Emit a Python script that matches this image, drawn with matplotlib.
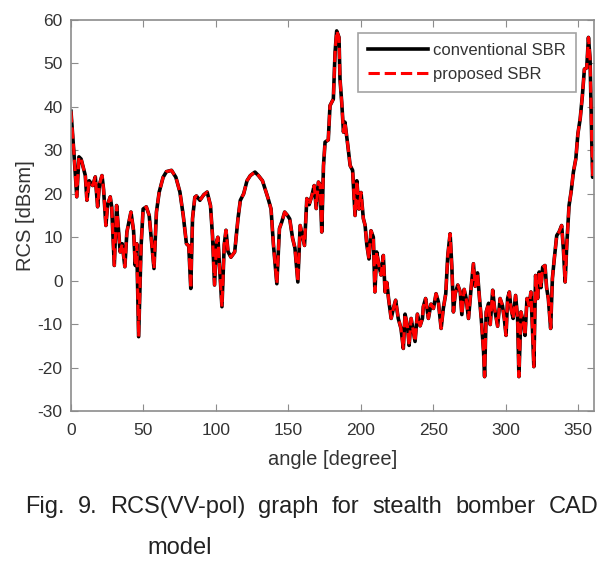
import matplotlib
matplotlib.use("Agg")
from matplotlib import pyplot as plt

# angle [degree] and RCS [dBsm]
angle = [0, 2, 4, 5.5, 7, 9.9, 11, 12.6, 15, 16.8, 18.4, 19.6, 21.4, 22.5, 24.1,
         25.3, 27.1, 28.1, 29.9, 31.5, 32.7, 34, 35.4, 37.2, 38.6, 41.4, 43.2,
         44.4, 45.4, 46.7, 48.4, 49.8, 52, 54, 55.6, 57.3, 59, 60.9, 63.6, 65.9,
         69.4, 72.4, 75.2, 77.5, 79.7, 81.3, 82.7, 83.9, 85.5, 86.6, 89, 91.7,
         94, 96.3, 97.7, 99.1, 100.5, 101.4, 102.5, 104.2, 105.8, 107, 108.4,
         110.4, 113, 115.3, 116.9, 119.2, 121.5, 123.8, 127, 129.4, 132.2, 134,
         136, 138.1, 139.7, 142.1, 143.9, 145.5, 147.5, 149.5, 151, 153, 154.6,
         156.6, 158.2, 159.6, 161.2, 162.8, 164.4, 166.3, 167.9, 169.3, 170.8,
         172, 173.1, 174.3, 175.4, 177.6, 178.8, 181.1, 182.3, 183.4, 185,
         185.7, 186.9, 188.1, 189.1, 191.1, 192.7, 194.4, 196.1, 197.3, 198.8,
         200.2, 201.8, 203, 204.2, 205.7, 207.1, 208.7, 209.8, 211, 212.6, 214,
         215.6, 216.8, 218, 219.2, 221, 222.6, 224.1, 225.9, 227.8, 229.4,
         230.6, 232.3, 233.4, 234.8, 236.4, 237.5, 239.1, 241, 242.6, 243.2,
         244.8, 246.7, 248.5, 250.2, 252, 253.6, 255.5, 257, 258.7, 260.1,
         261.7, 262.9, 264, 265.2, 267, 268.7, 269.8, 271.4, 272.8, 274.4,
         276.3, 277.8, 279, 280.6, 282, 283.2, 284.8, 285.5, 286.6, 288.3,
         289.4, 291.1, 292.4, 294.5, 296.2, 297.8, 299.1, 300.3, 301.4, 302.6,
         303.7, 305.2, 306.9, 308.3, 309.2, 310.6, 312.2, 313.4, 314.8, 316.2,
         317.5, 318.6, 319.5, 320.7, 322.1, 323.2, 324.4, 325.6, 327.2, 328.3,
         329.5, 331.1, 332.3, 333.6, 335.3, 336.9, 338.7, 339.9, 341.1, 342.2,
         343.8, 345.2, 346.8, 348.5, 349.9, 351.5, 353, 354.4, 356, 357.2,
         358.3, 359.5, 360.1, 361]

conventional_rcs = [39, 29.6, 19.3, 28.5, 28, 24.2, 18.5, 23, 21.9, 23.9, 17, 22,
                    24.2, 21, 12.7, 17.5, 19.3, 17, 3.5, 17.3, 12, 6.6, 8.5, 3.2,
                    11.2, 15.8, 11.5, 3.5, 8.5, -12.9, 8, 16.5, 17, 15, 9, 2.8,
                    15.8, 20.4, 23.8, 25.1, 25.4, 23.8, 20.4, 15, 8.5, 8, -1.8,
                    14.3, 19.2, 19.5, 18.5, 19.8, 20.4, 17.3, 10.3, -1, 9, 10,
                    3.5, -6, 8.3, 11.6, 6.7, 5.4, 6.6, 14.3, 18.5, 20, 23, 24.2,
                    25, 24.2, 23, 21.1, 19, 16.5, 8.5, -0.7, 12, 13.5, 15.8, 15,
                    14.2, 9.7, 7.5, -0.3, 12.7, 10.5, 8.1, 18.9, 17.5, 19.6,
                    21.9, 16.6, 22.7, 22, 11.2, 26.5, 31.9, 32.4, 40.3, 41.8,
                    52.6, 57.5, 56, 46.4, 41, 34.2, 36.5, 31.1, 26.5, 25.4, 15,
                    23, 16.5, 20.3, 14.3, 12.8, 8.3, 5, 11.5, 10, -2.6, 6.6, 3.5,
                    1.3, 5.8, -2.6, -0.4, -4.1, -8.7, -6.3, -4.5, -8.7, -11,
                    -15.6, -7.7, -10.5, -14.9, -8.7, -11.8, -14, -7.7, -10.4,
                    -8.7, -6, -4.1, -8.7, -5.4, -6.4, -3, -4.9, -11, -6.4, -3,
                    5.8, 10.8, 3.2, -7.2, -3, -1, -2.6, -7.8, -2, -4.1, -8.7,
                    -1.3, 3.9, -1.3, 1.8, -4.1, -8.7, -16.4, -22.1, -7.2, -5.2,
                    -10.1, -2.2, -6.4, -10.5, -4.1, -5.7, -8.7, -12.6, -4.1,
                    -2.6, -6.4, -8.7, -3.4, -8.7, -22.1, -7.2, -9.5, -12.6, -4.1,
                    -5.7, -2.6, -11.5, -19.8, 1.2, -4.1, 2, -1.6, 3.1, 3.5, -1.6,
                    -4.1, -11, 0.5, 5, 10.4, 11.2, 12.7, 7.3, -0.3, 8.1, 17.3,
                    20.4, 25, 28.1, 33.8, 37.3, 42.6, 48.7, 49, 56, 51.1, 31.9,
                    23.8, 31]

# the two curves lie on top of each other in the picture
proposed_rcs = list(conventional_rcs)

x_ticks = [0, 50, 100, 150, 200, 250, 300, 350]
y_ticks = [-30, -20, -10, 0, 10, 20, 30, 40, 50, 60]

caption_line1 = 'Fig. 9. RCS(VV-pol) graph for stealth bomber CAD'
caption_line2 = 'model'

plt.rcParams['font.family'] = ['Liberation Sans', 'DejaVu Sans']
plt.rcParams['axes.unicode_minus'] = False
frame_gray = '#8c8c8c'
text_gray = '#333333'

fig = plt.figure(figsize=(6.15, 5.64), dpi=100)
ax = fig.add_axes([0.1154, 0.2713, 0.8504, 0.6932])

ax.plot(angle, conventional_rcs, color='black', lw=2.6, label='conventional SBR')
ax.plot(angle, proposed_rcs, color='red', lw=2.2, ls='--', label='proposed SBR')

ax.set_xlim(0, 361)
ax.set_ylim(-30, 60)
ax.set_xticks(x_ticks)
ax.set_yticks(y_ticks)
ax.tick_params(direction='in', top=True, right=True, length=5, width=0.8,
               color=frame_gray, labelsize=12.5, labelcolor=text_gray)
ax.tick_params(axis='x', pad=9)
ax.tick_params(axis='y', pad=6)
for s in ax.spines.values():
    s.set_color(frame_gray)
    s.set_linewidth(1.2)

ax.set_xlabel('angle [degree]', fontsize=14.5, color=text_gray, labelpad=8)
ax.set_ylabel('RCS [dBsm]', fontsize=14.5, color=text_gray, labelpad=2)

leg = ax.legend(loc='upper right', bbox_to_anchor=(0.966, 0.968), fontsize=12,
                frameon=True, fancybox=False, handlelength=3.6, borderpad=0.6,
                labelspacing=0.55, handletextpad=0.3, borderaxespad=0)
leg.get_frame().set_edgecolor(frame_gray)
leg.get_frame().set_linewidth(1.2)
for t in leg.get_texts():
    t.set_color(text_gray)

# justified caption: first line spread from x=25px to x=598px
words = caption_line1.split()
left_px, right_px = 25, 598
fig.canvas.draw()
renderer = fig.canvas.get_renderer()
word_texts = []
for w in words:
    t = fig.text(0, 1 - 507 / 564, w, fontsize=17, color='#222222',
                 ha='left', va='center')
    word_texts.append(t)
widths = [t.get_window_extent(renderer).width for t in word_texts]
gap = (right_px - left_px - sum(widths)) / (len(words) - 1)
xpos = left_px
for t, wd in zip(word_texts, widths):
    t.set_x(xpos / 615)
    xpos += wd + gap

fig.text(147 / 615, 1 - 548 / 564, caption_line2, fontsize=17, color='#222222',
         ha='left', va='center')

fig.savefig('out.png', dpi=100, facecolor='white')
